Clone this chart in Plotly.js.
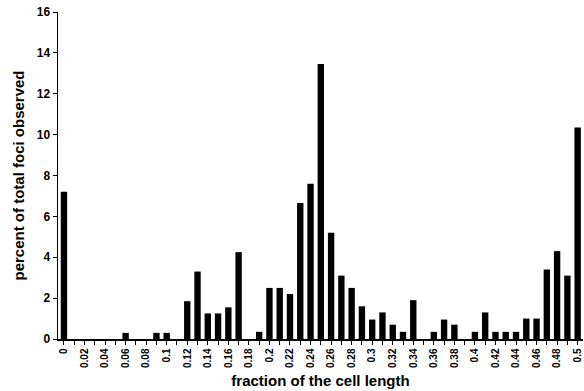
<!DOCTYPE html>
<html><head><meta charset="utf-8">
<script src="https://cdn.plot.ly/plotly-3.0.1.min.js"></script>
<style>html,body{margin:0;padding:0;background:#fff}#c{width:584px;height:391px}</style>
</head><body><div id="c"></div>
<script>
var positions = [0,0.01,0.02,0.03,0.04,0.05,0.06,0.07,0.08,0.09,0.1,0.11,0.12,0.13,0.14,0.15,0.16,0.17,0.18,0.19,0.2,0.21,0.22,0.23,0.24,0.25,0.26,0.27,0.28,0.29,0.3,0.31,0.32,0.33,0.34,0.35,0.36,0.37,0.38,0.39,0.4,0.41,0.42,0.43,0.44,0.45,0.46,0.47,0.48,0.49,0.5];
var percents = [7.2,0,0,0,0,0,0.3,0,0,0.3,0.3,0,1.85,3.3,1.25,1.25,1.55,4.25,0,0.35,2.5,2.5,2.2,6.65,7.6,13.45,5.2,3.1,2.5,1.6,0.95,1.3,0.7,0.35,1.9,0,0.35,0.95,0.7,0,0.35,1.3,0.35,0.35,0.35,1.0,1.0,3.4,4.3,3.1,10.35];
var tickVals = [0,0.02,0.04,0.06,0.08,0.1,0.12,0.14,0.16,0.18,0.2,0.22,0.24,0.26,0.28,0.3,0.32,0.34,0.36,0.38,0.4,0.42,0.44,0.46,0.48,0.5];
var tickText = ["0","0.02","0.04","0.06","0.08","0.1","0.12","0.14","0.16","0.18","0.2","0.22","0.24","0.26","0.28","0.3","0.32","0.34","0.36","0.38","0.4","0.42","0.44","0.46","0.48","0.5"];
var yTicks = [0,2,4,6,8,10,12,14,16];

var font = {family:'Liberation Sans, Arial, sans-serif', color:'#000'};
Plotly.newPlot('c', [{
  type:'bar', x:positions, y:percents, width:0.0062,
  marker:{color:'#000', line:{width:0}}
}], {
  width:584, height:391,
  margin:{l:58, r:1, t:12, b:52},
  paper_bgcolor:'#fff', plot_bgcolor:'#fff',
  showlegend:false,
  xaxis:{
    range:[-0.0058,0.5052], tickvals:tickVals, ticktext:tickText, tickangle:-90,
    ticks:'outside', ticklen:4, tickcolor:'#000', tickwidth:1,
    minor:{tickvals:positions.filter(function(p,i){return i%2===1;}), ticks:'outside', ticklen:4, tickcolor:'#000'},
    showline:true, linecolor:'#000', linewidth:1.5, showgrid:false, zeroline:false,
    tickfont:Object.assign({size:10, weight:'bold'}, font),
    title:{text:'<b>fraction of the cell length</b>', font:Object.assign({size:15}, font), standoff:8},
    automargin:false
  },
  yaxis:{
    range:[0,16], tickvals:yTicks, ticks:'outside', ticklen:4, tickcolor:'#000',
    showline:true, linecolor:'#000', linewidth:1.5, showgrid:false, zeroline:false,
    tickfont:Object.assign({size:12, weight:'bold'}, font),
    title:{text:'<b>percent of total foci observed</b>', font:Object.assign({size:15}, font), standoff:8},
    automargin:false
  }
}, {displayModeBar:false, staticPlot:true});
</script></body></html>
